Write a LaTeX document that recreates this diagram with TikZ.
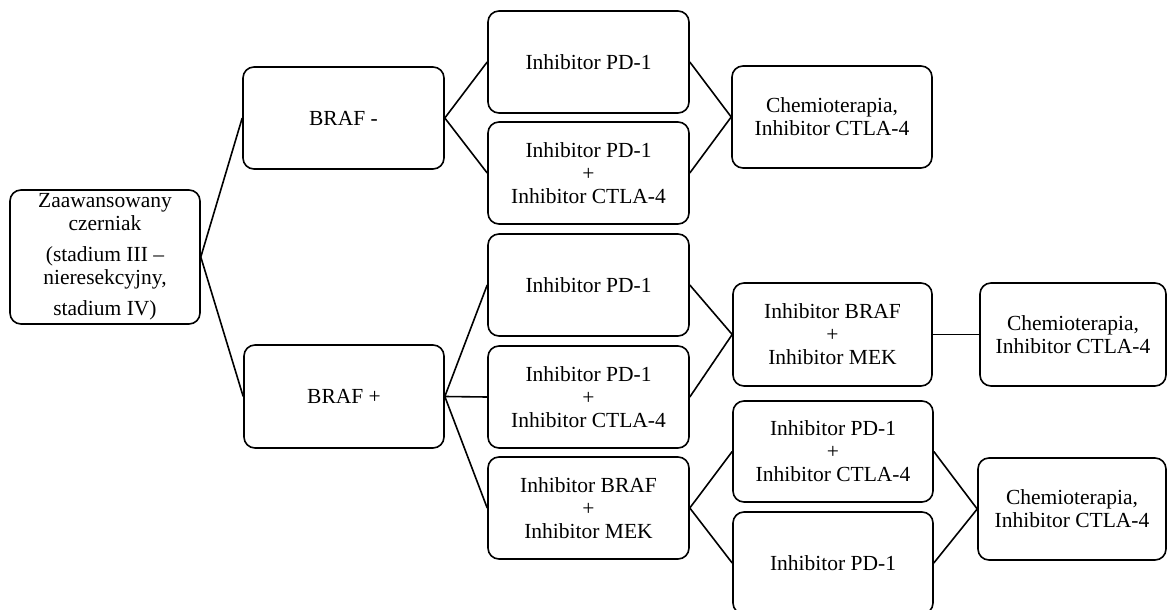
\documentclass[tikz,border=0pt]{standalone}
\usepackage{fontspec}
\setmainfont{Liberation Serif}
\begin{document}
\begin{tikzpicture}[x=1pt,y=-1pt,
  box/.style={draw, line width=1.6pt, rounded corners=11pt, align=center,
    inner sep=0pt, font=\fontsize{21.5}{23}\selectfont},
  link/.style={line width=1.6pt}]
\useasboundingbox (0,0) rectangle (1168,610);
\node[box, minimum width=190pt, minimum height=134pt] (z) at (105,257)
  {Zaawansowany\\czerniak\\[8pt](stadium III –\\nieresekcyjny,\\[8pt]stadium IV)};
\node[box, minimum width=201pt, minimum height=102pt] (bm) at (343.5,118) {BRAF -};
\node[box, minimum width=200pt, minimum height=103pt] (bp) at (344,396.5) {BRAF +};
\node[box, minimum width=201pt, minimum height=102pt] (a1) at (588.5,62) {Inhibitor PD-1};
\node[box, minimum width=201pt, minimum height=102pt] (a2) at (588.5,173) {Inhibitor PD-1\\+\\Inhibitor CTLA-4};
\node[box, minimum width=201pt, minimum height=102pt] (b1) at (588.5,285) {Inhibitor PD-1};
\node[box, minimum width=201pt, minimum height=102pt] (b2) at (588.5,397) {Inhibitor PD-1\\+\\Inhibitor CTLA-4};
\node[box, minimum width=201pt, minimum height=102pt] (b3) at (588.5,508) {Inhibitor BRAF\\+\\Inhibitor MEK};
\node[box, minimum width=200pt, minimum height=102pt] (c1) at (832,117) {Chemioterapia,\\Inhibitor CTLA-4};
\node[box, minimum width=199pt, minimum height=103pt] (c2) at (832.5,334.5) {Inhibitor BRAF\\+\\Inhibitor MEK};
\node[box, minimum width=186pt, minimum height=103pt] (d1) at (1073,334.5) {Chemioterapia,\\Inhibitor CTLA-4};
\node[box, minimum width=200pt, minimum height=101pt] (c3) at (833,451.5) {Inhibitor PD-1\\+\\Inhibitor CTLA-4};
\node[box, minimum width=200pt, minimum height=102pt] (c4) at (833,563) {Inhibitor PD-1};
\node[box, minimum width=188pt, minimum height=102pt] (d2) at (1072,509) {Chemioterapia,\\Inhibitor CTLA-4};
\draw[link] (bm.west) -- (z.east) -- (bp.west);
\draw[link] (a1.west) -- (bm.east) -- (a2.west);
\draw[link] (a1.east) -- (c1.west) -- (a2.east);
\draw[link] (bp.east) -- (b1.west);
\draw[link] (bp.east) -- (b2.west);
\draw[link] (bp.east) -- (b3.west);
\draw[link] (b1.east) -- (c2.west) -- (b2.east);
\draw[link] (c2.east) -- (d1.west);
\draw[link] (c3.west) -- (b3.east) -- (c4.west);
\draw[link] (c3.east) -- (d2.west) -- (c4.east);
\end{tikzpicture}
\end{document}
